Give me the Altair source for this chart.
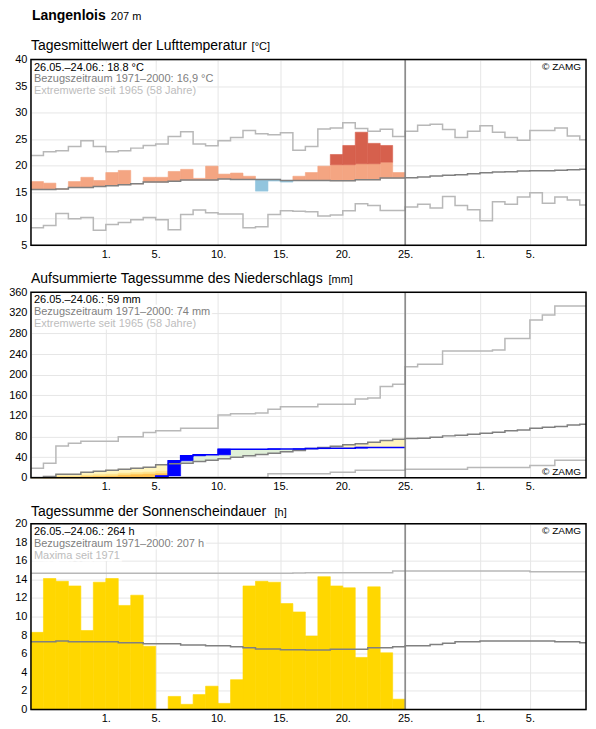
import altair as alt
import pandas as pd

FONT = "Liberation Sans, Arial, Helvetica, sans-serif"
W, H = 556, 186
XMAX = 44.5         # visible day range (26.05. = day 0)
DARK_ABOVE = 3.0    # K above normal -> dark red class

# ---------------- temperature (°C) ----------------
temp_obs = [17.0, 16.7, 15.6, 17.0, 17.8, 17.2, 18.7, 19.1, 16.6, 17.8,
            17.8, 18.9, 19.3, 17.6, 19.9, 18.4, 18.6, 18.0, 15.2, 17.1,
            16.9, 18.0, 18.7, 19.9, 22.1, 23.8, 26.3, 24.2, 23.8, 18.7]
temp_norm = [15.5, 15.5, 15.6, 15.86, 15.86, 16.06, 16.23, 16.4, 16.6, 16.9,
             16.9, 17.04, 17.3, 17.3, 17.3, 17.5, 17.4, 17.4, 17.4, 17.4,
             17.2, 17.2, 17.2, 17.2, 17.17, 17.17, 17.35, 17.35, 17.66, 17.66,
             17.73, 17.86, 18.05, 18.17, 18.3, 18.49, 18.67, 18.8, 18.86, 18.99,
             19.05, 19.05, 19.11, 19.24, 19.3]
temp_max = [21.9, 22.6, 22.8, 23.6, 24.7, 23.6, 22.6, 22.8, 23.3, 23.8,
            24.1, 25.5, 26.4, 24.1, 23.75, 24.7, 25.3, 26.6, 26.0, 25.8,
            26.2, 22.9, 23.6, 26.9, 27.1, 28.1, 27.0, 26.5, 26.85, 25.5,
            26.5, 27.6, 27.8, 26.8, 25.3, 26.5, 27.5, 26.3, 25.3, 24.8,
            26.6, 26.6, 27.1, 25.6, 24.9]
temp_min = [8.3, 8.7, 11.0, 10.0, 10.2, 7.8, 8.9, 9.3, 9.8, 10.2,
            9.8, 7.9, 10.8, 11.65, 11.1, 10.9, 10.9, 8.3, 8.5, 10.8,
            11.5, 11.4, 11.3, 10.5, 10.7, 11.5, 12.8, 12.5, 11.55, 11.55,
            12.2, 12.7, 12.0, 14.2, 12.5, 11.7, 9.6, 13.2, 12.7, 14.1,
            14.9, 12.9, 14.1, 13.5, 12.6]

# ---------------- precipitation, cumulative (mm) ----------------
prec_obs = [0, 0, 0, 0, 0, 0, 0, 0, 0, 0,
            3.5, 33.0, 42.6, 44.5, 44.5, 55.5, 55.5, 55.5, 55.5, 55.7,
            55.7, 56.0, 56.6, 57.4, 57.4, 57.4, 59.0, 59.0, 59.0, 59.0]
prec_norm = [0.6, 2.6, 7.1, 7.1, 11.0, 12.9, 14.8, 16.8, 18.7, 20.6,
             25.2, 27.1, 28.4, 31.6, 34.2, 36.8, 40.0, 42.6, 45.2, 47.7,
             50.3, 52.9, 56.8, 58.7, 61.3, 63.9, 65.8, 69.0, 72.3, 74.8,
             76.1, 76.8, 78.7, 81.3, 82.6, 84.5, 86.4, 88.4, 91.0, 92.9,
             96.1, 98.0, 99.3, 102.6, 103.9]
prec_max = [18.7, 28.4, 61.9, 67.1, 71.0, 71.0, 71.0, 79.4, 79.4, 87.7,
            91.0, 91.0, 96.1, 96.1, 96.1, 122.0, 124.0, 124.0, 125.6, 133.0,
            138.0, 138.0, 138.0, 142.6, 142.6, 142.6, 152.9, 154.8, 176.8, 181.3,
            215.5, 220.0, 220.0, 245.8, 245.8, 245.8, 245.8, 247.7, 270.3, 270.3,
            305.8, 315.5, 332.9, 332.9, 332.9]
prec_min = [0, 0, 0, 0, 0, 0, 0, 0, 0, 0,
            0, 0, 1.0, 1.0, 1.0, 1.0, 1.0, 1.0, 1.0, 7.7,
            7.7, 7.7, 7.7, 7.7, 11.0, 11.0, 14.8, 14.8, 14.8, 14.8,
            16.8, 16.8, 16.8, 16.8, 16.8, 20.0, 20.0, 20.0, 20.0, 20.0,
            23.9, 23.9, 34.2, 34.2, 34.2]
# deficit shading bands (upper edges), days 0..10
prec_band_mid = [0.2, 1.0, 3.0, 3.0, 5.0, 6.0, 7.0, 9.0, 10.0, 11.0, 13.0]
prec_band_low = [0.0, 0.3, 1.0, 1.0, 2.0, 2.5, 3.0, 5.0, 6.0, 7.0, 8.0]

# ---------------- sunshine (h) ----------------
sun_obs = [8.3, 14.1, 13.8, 13.3, 8.5, 13.7, 14.1, 11.2, 12.3, 6.8,
           0.0, 1.4, 0.55, 1.6, 2.5, 0.65, 3.2, 13.3, 13.8, 13.7,
           11.4, 10.5, 7.9, 14.3, 13.3, 13.1, 5.6, 13.2, 6.1, 1.1]
sun_norm = [7.28, 7.28, 7.38, 7.28, 7.28, 7.28, 7.28, 7.17, 7.17, 7.06,
            7.06, 7.06, 6.95, 6.95, 6.85, 6.85, 6.74, 6.63, 6.52, 6.52,
            6.42, 6.42, 6.39, 6.39, 6.49, 6.49, 6.49, 6.63, 6.63, 6.74,
            6.85, 6.85, 6.99, 7.13, 7.28, 7.28, 7.38, 7.38, 7.38, 7.38,
            7.38, 7.38, 7.28, 7.28, 7.17]
sun_max = [14.66, 14.66, 14.66, 14.66, 14.66, 14.66, 14.66, 14.66, 14.66, 14.66,
           14.66, 14.66, 14.66, 14.66, 14.66, 14.66, 14.66, 14.66, 14.66, 14.66,
           14.66, 14.7, 14.73, 14.73, 14.73, 14.73, 14.73, 14.73, 14.73, 14.9,
           14.9, 14.9, 14.9, 14.9, 14.9, 14.9, 14.9, 14.9, 14.9, 14.9,
           14.84, 14.84, 14.84, 14.84, 14.84]

tick_days = [6, 10, 15, 20, 25, 30, 36, 40]
today = 30

# ---------------- helpers ----------------
XS = alt.Scale(domain=[0, XMAX], nice=False, zero=False)
GRID = "#e6e6e6"
XAXIS = alt.Axis(values=tick_days, title=None, grid=True, gridColor=GRID,
                 ticks=False, domain=False, labelPadding=3, labelFontSize=11,
                 labelFont=FONT, labelColor="#000",
                 labelExpr="(datum.value <= 30 ? datum.value - 5 : datum.value - 35) + '.'")


def yaxis(vals):
    return alt.Axis(values=vals, title=None, grid=True, gridColor=GRID, ticks=False,
                    domain=False, labelPadding=4, labelFontSize=11, labelFont=FONT,
                    labelColor="#000")


def step(values, ys, ya, color, width=1.5):
    xs = list(range(len(values))) + [len(values)]
    vs = list(values) + [values[-1]]
    df = pd.DataFrame({"d": xs, "v": vs})
    return alt.Chart(df).mark_line(interpolate="step-after", color=color,
                                   strokeWidth=width, clip=True).encode(
        x=alt.X("d:Q", scale=XS, axis=XAXIS),
        y=alt.Y("v:Q", scale=ys, axis=ya))


def rects(rows, color, ys, ya):
    df = pd.DataFrame(rows, columns=["d", "lo", "hi"])
    df["d1"] = df["d"] + 1
    return alt.Chart(df).mark_rect(color=color, stroke=color, strokeWidth=0.6).encode(
        x=alt.X("d:Q", scale=XS, axis=XAXIS), x2="d1:Q",
        y=alt.Y("lo:Q", scale=ys, axis=ya), y2="hi:Q")


def txt(s, x, y, size=11, color="#000", weight="normal", align="left", halo=False):
    base = alt.Chart(pd.DataFrame({"t": [s]}))
    kw = dict(align=align, baseline="alphabetic", font=FONT, fontSize=size,
              fontWeight=weight)
    enc = dict(x=alt.value(x), y=alt.value(y), text="t:N")
    layers = []
    if halo:
        layers.append(base.mark_text(color="white", stroke="white", strokeWidth=5,
                                     **kw).encode(**enc))
    layers.append(base.mark_text(color=color, **kw).encode(**enc))
    return layers


def today_rule():
    return alt.Chart(pd.DataFrame({"d": [today]})).mark_rule(
        color="#808080", strokeWidth=1.5).encode(x=alt.X("d:Q", scale=XS, axis=XAXIS))


def frame():
    return alt.Chart(pd.DataFrame({"a": [0]})).mark_rect(
        filled=False, stroke="#000", strokeWidth=1.5).encode(
        x=alt.value(0), x2=alt.value(W), y=alt.value(0), y2=alt.value(H))


def info(lines):
    out = []
    cols = ["#000", "#808080", "#bdbdbd"]
    for i, s in enumerate(lines):
        out += txt(s, 3, 11 + 12 * i, color=cols[i], halo=True)
    return out


# ---------------- panel 1: temperature ----------------
YT = alt.Scale(domain=[5, 40], nice=False, zero=False)
YTA = yaxis(list(range(5, 41, 5)))
warm, hot, cold = [], [], []
for d, (o, n) in enumerate(zip(temp_obs, temp_norm)):
    if o >= n:
        warm.append((d, n, min(o, n + DARK_ABOVE)))
        if o > n + DARK_ABOVE:
            hot.append((d, n + DARK_ABOVE, o))
    else:
        cold.append((d, o, n))

p1 = alt.layer(
    rects(warm, "#f4a582", YT, YTA),
    rects(hot, "#d6604d", YT, YTA),
    rects(cold, "#92c5de", YT, YTA),
    step(temp_max, YT, YTA, "#b8b8b8"),
    step(temp_min, YT, YTA, "#b8b8b8"),
    step(temp_norm, YT, YTA, "#808080"),
    today_rule(),
    *info(["26.05.–24.06.: 18,8 °C", "Bezugszeitraum 1971–2000: 16,9 °C",
           "Extremwerte seit 1965 (58 Jahre)"]),
    *txt("© ZAMG", W - 5, 10, size=10, align="right"),
    *txt("Langenlois", 1, -39.5, size=14, weight="bold"),
    *txt("207 m", 80, -39.5, size=11),
    *txt("Tagesmittelwert der Lufttemperatur", 0, -10, size=14),
    *txt("[°C]", 221, -10, size=11),
    frame(),
).properties(width=W, height=H)

# ---------------- panel 2: precipitation ----------------
YP = alt.Scale(domain=[0, 360], nice=False, zero=False)
YPA = yaxis(list(range(0, 361, 40)))
surplus, deficit, band_mid, band_low, daily = [], [], [], [], []
prev = 0.0
for d, o in enumerate(prec_obs):
    n = prec_norm[d]
    if o > n:
        surplus.append((d, n, o))
    else:
        deficit.append((d, o, n))
    if d < len(prec_band_mid) and prec_band_mid[d] > o:
        band_mid.append((d, o, prec_band_mid[d]))
    if d < len(prec_band_low) and prec_band_low[d] > o:
        band_low.append((d, o, prec_band_low[d]))
    if o > prev:
        daily.append((d, prev, o))
    prev = o

p2 = alt.layer(
    rects(surplus, "#e0f0d8", YP, YPA),
    rects(deficit, "#fff5be", YP, YPA),
    rects(band_mid, "#ffe38a", YP, YPA),
    rects(band_low, "#ffc04d", YP, YPA),
    rects(daily, "#0000ff", YP, YPA),
    step(prec_max, YP, YPA, "#b8b8b8"),
    step(prec_min, YP, YPA, "#b8b8b8"),
    step(prec_norm, YP, YPA, "#808080"),
    step(prec_obs, YP, YPA, "#0000ff"),
    today_rule(),
    *info(["26.05.–24.06.: 59 mm", "Bezugszeitraum 1971–2000: 74 mm",
           "Extremwerte seit 1965 (58 Jahre)"]),
    *txt("© ZAMG", W - 5, H - 3, size=10, align="right"),
    *txt("Aufsummierte Tagessumme des Niederschlags", 0, -9, size=14),
    *txt("[mm]", 298, -9, size=11),
    frame(),
).properties(width=W, height=H)

# ---------------- panel 3: sunshine ----------------
YS = alt.Scale(domain=[0, 20], nice=False, zero=False)
YSA = yaxis(list(range(0, 21, 2)))
sun_rows = [(d, 0.0, v) for d, v in enumerate(sun_obs) if v > 0]

p3 = alt.layer(
    rects(sun_rows, "#ffd700", YS, YSA),
    step(sun_max, YS, YSA, "#b8b8b8"),
    step(sun_norm, YS, YSA, "#808080"),
    today_rule(),
    *info(["26.05.–24.06.: 264 h", "Bezugszeitraum 1971–2000: 207 h",
           "Maxima seit 1971"]),
    *txt("© ZAMG", W - 5, 10, size=10, align="right"),
    *txt("Tagessumme der Sonnenscheindauer", 0, -8, size=14),
    *txt("[h]", 244, -8, size=11),
    frame(),
).properties(width=W, height=H)

chart = alt.vconcat(p1, p2, p3, spacing=11).properties(
    padding={"left": 0, "top": 0, "right": 0, "bottom": 0}
).configure_view(stroke=None).configure(background="white")

chart.save("out.html", embed_options={"renderer": "svg", "actions": False})
